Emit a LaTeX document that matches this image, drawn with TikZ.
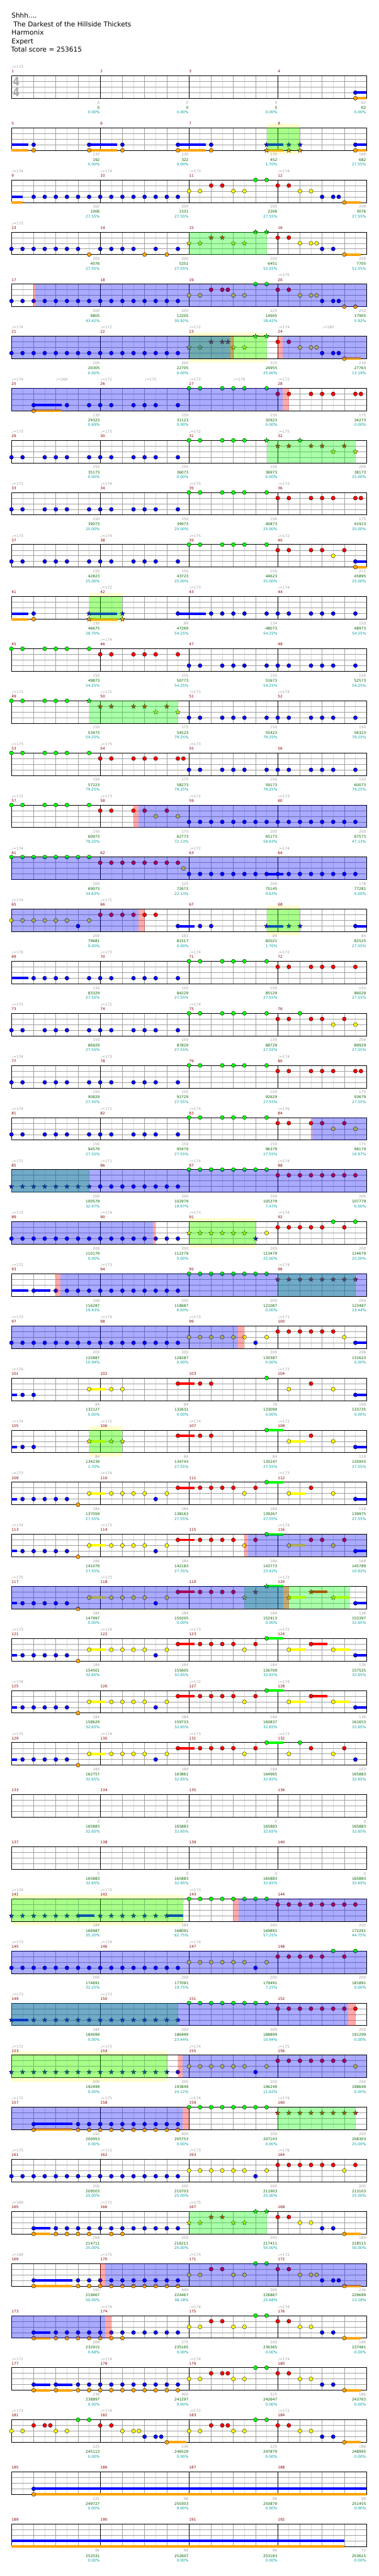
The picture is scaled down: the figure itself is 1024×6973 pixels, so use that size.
\documentclass[tikz,border=0pt]{standalone}
\usepackage{fontspec}
\setmainfont{DejaVu Sans}
\pgfdeclarelayer{bg}\pgfdeclarelayer{grid}\pgfdeclarelayer{ov}
\pgfsetlayers{bg,grid,main,ov}
\definecolor{L0}{HTML}{00FF00}
\definecolor{L1}{HTML}{FF0000}
\definecolor{L2}{HTML}{FFFF00}
\definecolor{L3}{HTML}{0000FF}
\definecolor{L4}{HTML}{FFA500}
\definecolor{c8}{HTML}{DCDCDC}
\definecolor{c4}{HTML}{A0A0A0}
\definecolor{mred}{HTML}{8B0000}
\definecolor{sgray}{HTML}{A0A0A0}
\definecolor{sgreen}{HTML}{006400}
\definecolor{scyan}{HTML}{00A0A0}
\definecolor{ybox}{HTML}{FFFFCC}
\definecolor{tsgray}{HTML}{AAAAAA}
\tikzset{
 nt/.style={draw=black, line width=0.6pt},
 stn/.style={draw=black, line width=0.5pt},
 g8/.style={draw=c8, line width=1pt},
 g4/.style={draw=c4, line width=1pt},
 gm/.style={draw=black, line width=1pt},
 brd/.style={draw=black, line width=1.3pt},
 small/.style={font=\fontsize{10}{12}\selectfont, inner sep=0pt},
 mnum/.style={small, text=mred, anchor=base west},
 tempotxt/.style={small, text=sgray, anchor=base west},
 sg/.style={small, text=sgray, anchor=base east},
 sn/.style={small, text=sgreen, anchor=base east},
 sp/.style={small, text=scyan, anchor=base east},
 hdr/.style={font=\fontsize{18}{22}\selectfont, text=black, inner sep=0pt, anchor=base west},
 tsig/.style={font=\fontsize{32}{36}\selectfont\bfseries, text=tsgray, inner sep=0pt, xscale=0.8},
}
\newcommand\chartrow[2]{\pgfmathtruncatemacro\T{205+141*#1}#2}
\newcommand\Nt[2]{\foreach \pp in {#2}{\filldraw[nt, fill=L#1] ({31+30*\pp},{\T+15.25*#1}) circle[radius=5.4];}}
\newcommand\St[2]{\foreach \pp in {#2}{\filldraw[stn, fill=L#1, shift={({31+30*\pp},{\T+15.25*#1})}] (270:6.8) -- (306:2.7) -- (342:6.8) -- (18:2.7) -- (54:6.8) -- (90:2.7) -- (126:6.8) -- (162:2.7) -- (198:6.8) -- (234:2.7) -- cycle;}}
\newcommand\Su[3]{\fill[L#1] ({31+30*#2},{\T+15.25*#1-3.4}) rectangle ({31+30*#3},{\T+15.25*#1+3.4});}
\newcommand\Gr[2]{\begin{pgfonlayer}{ov}\fill[green, fill opacity=0.333] ({31+30*#1},\T) rectangle ({31+30*#2},{\T+61});\end{pgfonlayer}}
\newcommand\Bl[2]{\begin{pgfonlayer}{ov}\fill[blue, fill opacity=0.333] ({31+30*#1},\T) rectangle ({31+30*#2},{\T+61});\end{pgfonlayer}}
\newcommand\Pk[2]{\begin{pgfonlayer}{ov}\fill[red, fill opacity=0.333] ({31+30*#1},\T) rectangle ({31+30*#2},{\T+61});\end{pgfonlayer}}
\newcommand\Yb[2]{\begin{pgfonlayer}{bg}\fill[ybox] ({31+30*#1},{\T-10}) rectangle ({31+30*#2},{\T+71});\end{pgfonlayer}}
\newcommand\Tm[2]{\node[tempotxt] (tm\T-#1) at ({31+30*#1},{\T-20}) {♩=#2};}
\begin{document}
\begin{tikzpicture}[x=1pt,y=-1pt]
\useasboundingbox (0,0) rectangle (1024,6973);
\begin{pgfonlayer}{bg}\fill[white] (0,0) rectangle (1024,6973);\end{pgfonlayer}
% header
\node[hdr] (h1) at (31,49) {Shhh....};
\node[hdr] (h2) at (31,72) {\hspace*{5pt}The Darkest of the Hillside Thickets};
\node[hdr] (h3) at (31,95) {Harmonix};
\node[hdr] (h4) at (31,118) {Expert};
\node[hdr] (h5) at (30,141) {Total score = 253615};
% staves
\begin{pgfonlayer}{grid}
\foreach \k in {0,...,47}{
 \pgfmathtruncatemacro\TT{205+141*\k}
 \foreach \i in {1,3,...,31} \draw[g8] ({31+30*\i},\TT) -- ({31+30*\i},{\TT+61});
 \foreach \j in {1,2,3} \draw[g4] (31,{\TT+15.25*\j}) -- (991,{\TT+15.25*\j});
 \foreach \i in {2,4,6,10,12,14,18,20,22,26,28,30} \draw[g4] ({31+30*\i},\TT) -- ({31+30*\i},{\TT+61});
 \foreach \i in {8,16,24} \draw[gm] ({31+30*\i},\TT) -- ({31+30*\i},{\TT+61});
 \draw[brd] (31,\TT) rectangle (991,{\TT+61});
}
\end{pgfonlayer}
\foreach \k in {0,...,47}{
 \pgfmathtruncatemacro\TT{205+141*\k}
 \foreach \c in {0,1,2,3}{
  \pgfmathtruncatemacro\mn{4*\k+\c+1}
  \node[mnum] (mn\mn) at ({31+240*\c},{\TT-8}) {\mn};
 }
}
\node[tsig] (ts1) at (44,220) {4};
\node[tsig] (ts2) at (44,250) {4};
% scores
\foreach \m/\g/\n/\pc in {1/0/0/0.00,2/0/0/0.00,3/0/0/0.00,4/62/62/0.00,
5/130/192/0.00,6/130/322/0.00,7/130/452/1.70,8/168/682/27.55,
9/162/1006/27.55,10/200/1531/27.55,11/200/2206/27.55,12/209/3076/27.55,
13/200/4076/27.55,14/200/5251/27.55,15/200/6451/52.55,16/209/7705/52.55,
17/200/9805/43.42,18/200/12205/30.92,19/225/14905/18.42,20/250/17905/5.92,
21/200/20305/0.00,22/200/22705/0.00,23/225/24955/25.00,24/234/27763/13.19,
25/130/29323/0.69,26/150/31123/0.00,27/150/32923/0.00,28/175/34273/0.00,
29/150/35173/0.00,30/150/36073/0.00,31/150/36973/0.00,32/200/38173/25.00,
33/150/39073/25.00,34/150/39973/25.00,35/150/40873/25.00,36/175/41923/25.00,
37/150/42823/25.00,38/150/43723/25.00,39/150/44623/25.00,40/212/45895/25.00,
41/130/46675/26.70,42/99/47269/54.25,43/134/48073/54.25,44/150/48973/54.25,
45/150/49873/54.25,46/150/50773/54.25,47/150/51673/54.25,48/150/52573/54.25,
49/150/53473/54.25,50/175/54523/79.25,51/150/55423/79.25,52/150/56323/79.25,
53/150/57223/79.25,54/175/58273/79.25,55/150/59173/79.25,56/150/60073/79.25,
57/150/60973/79.25,58/175/62773/72.13,59/200/65173/59.63,60/200/67573/47.13,
61/200/69973/34.63,62/225/72673/22.13,63/206/75145/9.63,64/178/77281/0.00,
65/200/79681/0.00,66/181/81517/0.00,67/84/82021/1.70,68/84/82525/27.55,
69/134/83329/27.55,70/150/84229/27.55,71/150/85129/27.55,72/150/86029/27.55,
73/150/86929/27.55,74/150/87829/27.55,75/150/88729/27.55,76/200/89929/27.55,
77/150/90829/27.55,78/150/91729/27.55,79/150/92629/27.55,80/175/93679/27.55,
81/150/94579/27.55,82/150/95479/27.55,83/150/96379/27.55,84/175/98179/19.97,
85/200/100579/32.47,86/200/102979/19.97,87/200/105379/7.47,88/200/107779/0.00,
89/200/110179/0.00,90/200/112279/0.00,91/200/113479/25.00,92/200/114679/25.00,
93/168/116287/19.43,94/200/118687/6.93,95/200/121087/0.00,96/200/123487/23.44,
97/200/125887/10.94,98/200/128287/0.00,99/200/130387/0.00,100/206/131623/0.00,
101/84/132127/0.00,102/84/132631/0.00,103/78/133099/0.00,104/106/133735/0.00,
105/84/134239/1.70,106/84/134743/27.55,107/84/135247/27.55,108/118/135955/27.55,
109/184/137059/27.55,110/184/138163/27.55,111/184/139267/27.55,112/118/139975/27.55,
113/184/141079/27.55,114/184/142183/27.55,115/184/143773/23.42,116/168/145789/10.92,
117/184/147997/0.00,118/184/150205/0.00,119/184/152413/0.00,120/136/153397/32.65,
121/184/154501/32.65,122/184/155605/32.65,123/184/156709/32.65,124/136/157525/32.65,
125/184/158629/32.65,126/184/159733/32.65,127/184/160837/32.65,128/136/161653/32.65,
129/184/162757/32.65,130/184/163861/32.65,131/184/164965/32.65,132/153/165883/32.65,
133/0/165883/32.65,134/0/165883/32.65,135/0/165883/32.65,136/0/165883/32.65,
137/0/165883/32.65,138/0/165883/32.65,139/0/165883/32.65,140/0/165883/32.65,
141/184/166987/35.20,142/184/168091/62.75,143/200/169891/57.25,144/200/172291/44.75,
145/200/174691/32.25,146/200/177091/19.75,147/200/179491/7.25,148/200/181891/0.00,
149/184/184099/0.00,150/200/186499/23.44,151/200/188899/10.94,152/200/191299/0.00,
153/200/192499/0.00,154/200/193849/24.12,155/200/196249/11.62,156/200/198649/0.00,
157/192/200953/0.00,158/400/205753/0.00,159/200/207103/0.00,160/200/208303/25.00,
161/200/209503/25.00,162/200/210703/25.00,163/200/211903/25.00,164/200/213103/25.00,
165/268/214711/25.00,166/250/216211/25.00,167/200/217411/50.00,168/184/218515/50.00,
169/192/219667/50.00,170/400/224467/38.18,171/200/226867/25.68,172/236/229699/13.18,
173/268/232915/0.68,174/275/235165/0.00,175/200/236365/0.00,176/186/237481/0.00,
177/236/238897/0.00,178/400/241297/0.00,179/225/242647/0.00,180/186/243763/0.00,
181/225/245113/0.00,182/236/246529/0.00,183/225/247879/0.00,184/186/248995/0.00,
185/122/249727/0.00,186/96/250303/0.00,187/96/250879/0.00,188/96/251455/0.00,
189/96/252031/0.00,190/96/252607/0.00,191/96/253183/0.00,192/72/253615/0.00}{
 \pgfmathtruncatemacro\rk{(\m-1)/4}
 \pgfmathtruncatemacro\cc{\m-1-4*\rk}
 \pgfmathtruncatemacro\TT{205+141*\rk}
 \pgfmathtruncatemacro\xe{31+240*(\cc+1)-1}
 \node[sg] (sa\m) at (\xe,{\TT+76}) {\g};
 \node[sn] (sb\m) at (\xe,{\TT+90}) {\n};
 \node[sp] (sc\m) at (\xe,{\TT+103}) {\pc\%};
}
% rows
\chartrow{0}{\Tm{0}{173}\Su{3}{31}{32}\Su{4}{31}{32}\Nt{3}{31}\Nt{4}{31}}
\chartrow{1}{\Yb{23}{26}\Su{3}{0}{1.5}\Su{4}{0}{1.5}\Su{3}{7}{9.5}\Su{4}{7}{9.5}\Su{3}{15}{17.5}\Su{4}{15}{17.5}\Su{3}{23}{24.5}\Su{4}{23}{24.5}\Su{3}{31}{32}\Su{4}{31}{32}\Nt{3}{2,7,10,15,18,31}\Nt{4}{2,7,10,15,18,31}\St{3}{23,25,26}\St{4}{23,25,26}\Gr{23}{26}}
\chartrow{2}{\Tm{0}{174}\Tm{8}{174}\Tm{16}{173}\Tm{24}{174}\Su{3}{0}{1}\Su{4}{0}{1}\Su{4}{30}{31.5}\Nt{3}{2,...,15}\Nt{3}{28,29,29.5}\Nt{2}{16,17,20,21,26,27}\Nt{1}{18,19,24,25}\Nt{0}{22,23}\Nt{4}{30}}
\chartrow{3}{\Tm{0}{173}\Su{4}{30}{31.5}\Nt{3}{0,1,2,3,4,5,6,8,9,10,11,13,15,28,29}\Nt{4}{7,12,14,30}\St{2}{16,17,20,21}\St{1}{18,19}\St{0}{22,23}\Nt{1}{24,25}\Nt{2}{26,27,27.5}\Gr{16}{23}}
\chartrow{4}{\Tm{24}{175}\Nt{3}{0,...,15}\Nt{3}{28,29,29.5}\Nt{2}{16,17,20,21,26,27,27.5}\Nt{1}{18,19,19.5,24,25}\Nt{0}{22,23}\Nt{4}{30,31}\Pk{2}{2.13}\Bl{2.13}{32}}
\chartrow{5}{\Tm{0}{174}\Tm{8}{172}\Tm{16}{172}\Tm{24}{174}\Tm{28}{180}\Yb{16}{23}\Su{4}{30}{31.5}\Nt{3}{0,...,15}\Nt{3}{28,29,29.5}\St{2}{16,17,20,21}\St{1}{18,19,19.5}\St{0}{22,23}\Nt{1}{24,25}\Nt{2}{26,27,27.5}\Nt{4}{30}\Gr{16}{23}\Bl{0}{19.75}\Pk{19.75}{20}\Pk{24}{24.42}\Bl{24.42}{32}}
\chartrow{6}{\Tm{0}{174}\Tm{4}{166}\Tm{8}{171}\Tm{12}{175}\Tm{16}{172}\Tm{20}{176}\Tm{24}{172}\Su{3}{2}{4.5}\Su{4}{2}{4.5}\Nt{3}{2,5,7,8,9,11,12,13,15}\Nt{4}{2}\Nt{0}{16,17,19,20,21,23}\Nt{1}{24,25,27,28,29,31,31.5}\Bl{0}{24.43}\Pk{24.43}{25}}
\chartrow{7}{\Tm{0}{173}\Tm{8}{175}\Tm{16}{172}\Tm{24}{175}\Nt{3}{0,1,3,4,5,7,8,9,11,12,13,15}\Nt{0}{16,17,19,20,21}\St{0}{23,26}\St{1}{24,25,27,28,30}\St{2}{29,31}\Gr{23}{31}}
\chartrow{8}{\Tm{0}{173}\Tm{8}{174}\Tm{16}{175}\Tm{24}{173}\Nt{3}{0,1,3,4,5,7,8,9,11,12,13,15}\Nt{0}{16,17,19,20,21,23}\Nt{1}{24,25,27,28,29,31,31.5}}
\chartrow{9}{\Tm{0}{173}\Tm{8}{174}\Tm{16}{175}\Tm{24}{172}\Su{3}{31}{32}\Su{4}{31}{32}\Nt{3}{0,1,3,4,5,7,8,9,11,12,13,15,31}\Nt{0}{16,17,19,20,21,23}\Nt{1}{24,25,27,28,30}\Nt{2}{29}\Nt{4}{31}}
\chartrow{10}{\Tm{8}{172}\Tm{16}{173}\Tm{24}{174}\Yb{7}{10}\Su{3}{0}{1.5}\Su{4}{0}{1.5}\Su{3}{7}{9.5}\Su{4}{7}{9.5}\Su{3}{15}{17.5}\Nt{3}{2}\Nt{4}{2}\St{3}{7,10}\St{4}{7,10}\Nt{3}{15,18,19,20,21,23,24,25,27,28,29,31}\Gr{7}{10}}
\chartrow{11}{\Tm{8}{174}\Nt{0}{0,1,3,4,5,7}\Nt{1}{8,9,11,12,13,15}\Nt{3}{16,17,19,20,21,23,24,25,27,28,29,31}}
\chartrow{12}{\Tm{0}{173}\Tm{8}{172}\Tm{16}{173}\Tm{24}{174}\Nt{0}{0,1,3,4,5}\St{0}{7}\St{1}{8,9,11,12,14}\St{2}{13,15}\Nt{3}{16,17,19,20,21,23,24,25,27,28,29,31}\Gr{7}{15}}
\chartrow{13}{\Tm{0}{173}\Tm{8}{175}\Tm{16}{173}\Nt{0}{0,1,3,4,5,7}\Nt{1}{8,9,11,12,13,15,15.5}\Nt{3}{16,17,19,20,21,23,24,25,27,28,29,31}}
\chartrow{14}{\Tm{0}{172}\Tm{8}{173}\Tm{16}{171}\Tm{24}{173}\Nt{0}{0,1,3,4,5,7}\Nt{1}{8,9,11,12,14}\Nt{2}{13,15}\Nt{3}{16,...,31}\Pk{11}{11.43}\Bl{11.43}{32}}
\chartrow{15}{\Tm{0}{174}\Tm{16}{172}\Tm{24}{174}\Su{3}{23}{24.5}\Nt{0}{0,...,7}\Nt{1}{8,...,15}\Nt{2}{15.5}\Nt{3}{16,...,31}\Bl{0}{32}}
\chartrow{16}{\Tm{0}{174}\Tm{8}{172}\Yb{23}{26}\Su{3}{15}{16.5}\Su{3}{23}{24.5}\Su{3}{31}{32}\Nt{2}{0,1,2,3,4,5,7}\Nt{3}{6}\Nt{1}{8,9,10,11,12,13}\Nt{3}{15,17,18,31}\St{3}{23,25,26}\Gr{23}{26}\Bl{0}{11.43}\Pk{11.43}{12}}
\chartrow{17}{\Tm{0}{176}\Tm{8}{173}\Tm{16}{174}\Tm{24}{172}\Su{3}{0}{1.5}\Nt{3}{2,3,4,5,7,8,9,11,12,13,15}\Nt{0}{16,17,19,20,21,23}\Nt{1}{24,25,27,28,29,31}}
\chartrow{18}{\Tm{0}{175}\Tm{8}{172}\Tm{16}{174}\Nt{3}{0,1,3,4,5,7,8,9,11,12,13,15}\Nt{0}{16,17,19,20,21,23,26}\Nt{1}{24,25,27,28,30}\Nt{2}{29,31}}
\chartrow{19}{\Tm{0}{174}\Tm{8}{173}\Tm{24}{174}\Nt{3}{0,1,3,4,5,7,8,9,11,12,13,15}\Nt{0}{16,17,19,20,21,23}\Nt{1}{24,25,27,28,29,31,31.5}}
\chartrow{20}{\Tm{0}{174}\Tm{8}{171}\Tm{16}{175}\Tm{24}{176}\Nt{3}{0,1,3,4,5,7,8,9,11,12,13,15}\Nt{0}{16,17,19,20,21,23}\Nt{1}{24,25,27,28,30}\Nt{2}{29,31}\Pk{27}{27.1}\Bl{27.1}{32}}
\chartrow{21}{\Tm{0}{171}\Tm{8}{171}\Tm{16}{174}\Tm{24}{174}\St{3}{0,...,7}\Nt{3}{8,...,15}\Nt{0}{16,...,23}\Nt{1}{24,...,31}\Gr{0}{7}\Bl{0}{32}}
\chartrow{22}{\Tm{0}{173}\Tm{8}{174}\Tm{16}{173}\Tm{24}{174}\Yb{16}{22}\Nt{3}{0,...,15}\St{2}{16,...,21}\St{3}{22}\Nt{2}{23}\Nt{1}{24,25,26,27,28,30}\Nt{0}{29,31}\Gr{16}{22}\Bl{0}{12.75}\Pk{12.75}{13}}
\chartrow{23}{\Tm{0}{172}\Tm{8}{173}\Tm{24}{174}\Su{3}{0}{1.5}\Su{3}{2}{3.5}\Nt{3}{2}\Nt{3}{4,...,15}\Nt{0}{16,...,23}\St{1}{24,...,31}\Gr{24}{31}\Pk{4}{4.4}\Bl{4.4}{32}}
\chartrow{24}{\Tm{0}{173}\Tm{8}{174}\Tm{16}{173}\Tm{24}{171}\Su{3}{31}{32}\Nt{3}{0,...,15}\Nt{3}{22,31}\Nt{2}{16,...,21}\Nt{2}{23,30}\Nt{1}{24,...,29}\Bl{0}{20.4}\Pk{20.4}{21}}
\chartrow{25}{\Tm{0}{174}\Tm{24}{172}\Su{3}{0}{0.5}\Su{2}{7}{8.5}\Su{1}{15}{16.5}\Su{3}{31}{32}\Nt{3}{1,2,31}\Nt{2}{7,9,10,25,29}\Nt{1}{15,17,18,27}\Nt{0}{23}}
\chartrow{26}{\Tm{0}{174}\Tm{8}{172}\Tm{16}{174}\Tm{24}{172}\Yb{7}{10}\Su{3}{0}{0.5}\Su{2}{7}{8.5}\Su{1}{15}{16.5}\Su{0}{23}{24.5}\Su{2}{25}{26.5}\Su{3}{31}{32}\Nt{3}{1,2,31}\St{2}{7,9,10}\Nt{1}{15,17,18,27}\Nt{0}{23}\Nt{2}{25,29}\Gr{7}{10}}
\chartrow{27}{\Tm{0}{173}\Tm{8}{174}\Tm{24}{173}\Su{3}{0}{0.5}\Su{2}{7}{8.5}\Su{1}{15}{16.5}\Su{0}{23}{24.5}\Su{2}{25}{26.5}\Su{3}{31}{32}\Nt{3}{1,2,3,4,5,13,31}\Nt{4}{6}\Nt{2}{7,9,10,11,12,14,21,25,29}\Nt{1}{15,17,18,19,20,22,27}\Nt{0}{23}}
\chartrow{28}{\Tm{0}{174}\Tm{8}{173}\Tm{24}{174}\Su{3}{0}{0.5}\Su{2}{7}{8.5}\Su{1}{15}{16.5}\Su{0}{23}{24.5}\Su{2}{25}{26.5}\Su{3}{31}{32}\Nt{3}{1,2,3,4,5,13,31}\Nt{4}{6}\Nt{2}{7,9,10,11,12,14,21,25,29}\Nt{1}{15,17,18,19,20,22,27,28,30}\Nt{0}{23}\Pk{21}{21.33}\Bl{21.33}{32}}
\chartrow{29}{\Tm{0}{175}\Tm{8}{173}\Tm{24}{172}\Su{3}{0}{0.5}\Su{2}{7}{8.5}\Su{1}{15}{16.5}\Su{0}{23}{24.5}\Su{2}{25}{26.5}\Su{1}{27}{28.5}\Su{2}{29}{30.5}\Su{3}{31}{32}\Nt{3}{1,2,3,4,5,13,31}\Nt{4}{6}\Nt{2}{7,9,10,11,12,14}\Nt{1}{15,17,18,19,20}\St{2}{21,25,29}\St{1}{22,27}\St{0}{23}\Gr{21}{30.5}\Bl{0}{24.5}\Pk{24.5}{25}}
\chartrow{30}{\Tm{0}{173}\Tm{8}{174}\Tm{16}{173}\Tm{24}{172}\Su{3}{0}{0.5}\Su{2}{7}{8.5}\Su{1}{15}{16.5}\Su{0}{23}{24.5}\Su{2}{25}{26.5}\Su{1}{27}{28.5}\Su{2}{29}{30.5}\Su{3}{31}{32}\Nt{3}{1,2,3,4,5,13,31}\Nt{4}{6}\Nt{2}{7,9,10,11,12,14,21,25,29}\Nt{1}{15,17,18,19,20,22,27}\Nt{0}{23}}
\chartrow{31}{\Tm{0}{174}\Tm{16}{172}\Tm{24}{174}\Su{3}{0}{0.5}\Su{2}{7}{8.5}\Su{1}{15}{16.5}\Su{0}{23}{24.5}\Su{2}{25}{26.5}\Su{1}{27}{28.5}\Su{2}{29}{30.5}\Su{3}{31}{32}\Nt{3}{1,2,3,4,5,13,31}\Nt{4}{6}\Nt{2}{7,9,10,11,12,14,21,25,29}\Nt{1}{15,17,18,19,20,22,27}\Nt{0}{23}}
\chartrow{32}{\Tm{0}{175}\Tm{8}{174}\Tm{16}{173}\Tm{24}{173}\Su{3}{0}{0.5}\Su{2}{7}{8.5}\Su{1}{15}{16.5}\Su{0}{23}{24.5}\Nt{3}{1,2,3,4,5,13,31}\Nt{4}{6}\Nt{2}{7,9,10,11,12,14,21,25,29}\Nt{1}{15,17,18,19,20,22,27,30}\Nt{0}{23,26}}
\chartrow{35}{\Tm{0}{174}\Tm{8}{173}\Tm{16}{173}\Yb{0}{15.5}\Su{3}{6}{7.5}\Su{3}{14}{15.5}\St{3}{0,...,6}\St{3}{8,...,14}\Nt{0}{16,...,23}\Nt{1}{24,...,31}\Gr{0}{15.5}\Pk{20}{20.5}\Bl{20.5}{32}}
\chartrow{36}{\Tm{0}{173}\Tm{8}{174}\Tm{16}{174}\Nt{3}{0,...,15}\Nt{3}{22}\Nt{2}{16,...,21}\Nt{2}{23}\Nt{1}{24,25,26,27,28,30}\Nt{0}{29,31}\Bl{0}{32}}
\chartrow{37}{\Tm{0}{173}\Tm{8}{173}\Su{3}{0}{1.5}\St{3}{0}\St{3}{2,...,15}\Nt{0}{16,...,23}\Nt{1}{24,...,31}\Gr{0}{15}\Bl{0}{30.35}\Pk{30.35}{31}}
\chartrow{38}{\Tm{0}{172}\Tm{8}{173}\Tm{16}{174}\Tm{24}{175}\Yb{0}{14}\St{3}{0,...,14}\Nt{3}{15,22}\Nt{2}{16,...,21}\Nt{2}{23,31}\Nt{1}{24,...,30}\Gr{0}{14}\Pk{15}{15.4}\Bl{15.4}{32}}
\chartrow{39}{\Tm{0}{172}\Tm{8}{175}\Tm{16}{174}\Tm{24}{174}\Su{3}{2}{5.5}\Su{4}{2}{5.5}\Nt{3}{2}\Nt{3}{6,...,15}\Nt{4}{2}\Nt{4}{6,...,15}\Nt{0}{16,...,23}\St{1}{24,...,31}\Gr{24}{31}\Bl{0}{15.4}\Pk{15.4}{16}}
\chartrow{40}{\Tm{0}{175}\Tm{8}{172}\Tm{16}{173}\Tm{24}{176}\Nt{3}{0,...,15}\Nt{3}{22}\Nt{2}{16,...,21}\Nt{2}{23,30}\Nt{1}{24,...,29}\Nt{1}{31}}
\chartrow{41}{\Tm{0}{169}\Tm{8}{172}\Tm{16}{175}\Su{3}{2}{3.5}\Su{4}{2}{3.5}\Su{4}{30}{31.5}\Nt{3}{2}\Nt{3}{4,...,15}\Nt{4}{2,4,5,6,7,9,10,30}\St{2}{16,17,20,21}\St{1}{18,19}\St{0}{22,23}\Nt{1}{24,25}\Nt{2}{26,27}\Nt{3}{28,29}\Gr{16}{23}}
\chartrow{42}{\Tm{0}{169}\Tm{8}{175}\Tm{16}{175}\Tm{24}{172}\Su{3}{2}{5.5}\Su{4}{2}{5.5}\Su{4}{30}{31.5}\Nt{3}{2}\Nt{3}{6,...,15}\Nt{4}{2}\Nt{4}{6,...,15}\Nt{2}{16,17,20,21,26,27,27.5}\Nt{1}{18,19,24,25}\Nt{0}{22,23}\Nt{3}{28,29,29.5}\Nt{4}{30}\Pk{8}{8.45}\Bl{8.45}{32}}
\chartrow{43}{\Tm{8}{174}\Tm{16}{174}\Tm{24}{174}\Su{3}{2}{3.5}\Su{4}{2}{3.5}\Su{4}{30}{31.5}\Nt{3}{2}\Nt{3}{4,...,15}\Nt{4}{2}\Nt{4}{4,...,10}\Nt{2}{16,17,20,21,26,27}\Nt{1}{18,19,24,25}\Nt{0}{22,23}\Nt{3}{28,29}\Nt{4}{30}\Bl{0}{8.45}\Pk{8.45}{9}}
\chartrow{44}{\Tm{0}{171}\Tm{8}{174}\Tm{16}{174}\Tm{24}{174}\Su{3}{2}{3.5}\Su{3}{4}{5.5}\Su{4}{2}{3.5}\Su{4}{4}{5.5}\Su{4}{30}{31.5}\Nt{3}{2,4}\Nt{3}{6,...,15}\Nt{4}{2,4}\Nt{4}{6,...,15}\Nt{2}{16,17,20,21,26,27}\Nt{1}{18,19,19.5,24,25}\Nt{0}{22,23}\Nt{3}{28,29}\Nt{4}{30}}
\chartrow{45}{\Tm{0}{173}\Tm{8}{174}\Tm{16}{172}\Tm{24}{172}\Su{4}{14}{15.75}\Su{4}{30}{31.5}\Nt{2}{0,1,4,5,10,11,11.5,16,17,20,21,26,27}\Nt{1}{2,3,3.5,8,9,18,19,19.5,24,25}\Nt{0}{6,7,22,23}\Nt{3}{12,13,13.5,28,29}\Nt{4}{14,30}}
\chartrow{46}{\Su{3}{2}{32}\Su{4}{2}{32}\Nt{3}{2}\Nt{4}{2}}
\chartrow{47}{\Su{3}{0}{30}\Su{4}{0}{30}}
\end{tikzpicture}
\end{document}
